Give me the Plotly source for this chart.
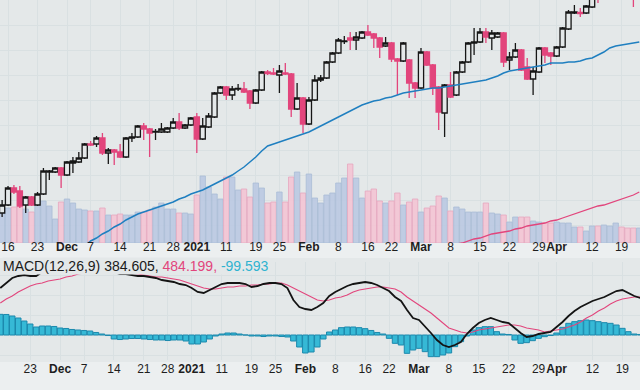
import pandas as pd
import plotly.graph_objects as go

# ---------------- data ----------------
HOLIDAYS = ["2020-11-26", "2020-12-25", "2021-01-01", "2021-01-18", "2021-02-15", "2021-04-02"]
FIRST_DAY, LAST_DAY = "2020-11-13", "2021-04-22"

OPEN = [29740, 29900, 30240, 30180, 29900, 30060, 29900, 30120, 30560, 30560, 30640, 30500, 30740, 30760, 30840,
        31120, 31120, 31240, 30940, 31000, 30960, 30860, 31240, 31260, 31480, 31420, 31360, 31360, 31360, 31440,
        31560, 31440, 31500, 31660, 31220, 31460, 31660, 32140, 32260, 32100, 32220, 32220, 32180, 31940, 32200,
        32560, 32540, 32500, 32540, 32520, 31820, 32040, 31520, 32000, 32400, 32440, 32760, 32940, 33170, 33240,
        33200, 33240, 33360, 33320, 33240, 33080, 33140, 32820, 32780, 32800, 32340, 32240, 32960, 32700, 32260,
        31740, 32300, 32100, 32560, 32760, 33140, 33160, 33360, 33240, 33260, 33340, 32800, 32860, 33000, 32660,
        32420, 32560, 33040, 32940, 32880, 33060, 33420, 33740, 33750, 33740, 33860, 34120, 34020, 34200, 34400,
        34480, 34400, 34280, 34080]
HIGH = [30000, 30280, 30300, 30280, 30080, 30080, 30160, 30640, 30600, 30660, 30660, 30780, 30860, 30960, 31140,
        31180, 31280, 31340, 31040, 31020, 31120, 31260, 31340, 31500, 31540, 31440, 31420, 31540, 31460, 31640,
        31740, 31520, 31660, 31740, 31640, 31740, 32160, 32280, 32280, 32280, 32320, 32360, 32200, 32220, 32580,
        32600, 32640, 32700, 32740, 32540, 32340, 32060, 32060, 32500, 32500, 32780, 32960, 33240, 33280, 33360,
        33360, 33380, 33500, 33340, 33260, 33260, 33160, 32840, 33160, 32820, 32360, 33040, 32980, 32720, 32280,
        32320, 32560, 32580, 32780, 33160, 33440, 33440, 33440, 33400, 33360, 33360, 32960, 33140, 33020, 32840,
        32660, 33060, 33060, 32960, 33080, 33460, 33800, 33900, 33840, 33900, 34080, 34160, 34240, 34440, 34540,
        34520, 34420, 34320, 34320]
LOW = [29660, 29880, 30120, 29840, 29740, 29880, 29880, 30100, 30400, 30540, 30240, 30480, 30540, 30740, 30820,
       31080, 31060, 30900, 30720, 30700, 30840, 30840, 31160, 31240, 31200, 30860, 31200, 31340, 31340, 31420,
       31400, 31420, 31480, 30940, 31200, 31440, 31640, 32120, 32000, 32000, 32180, 32140, 31820, 31920, 32180,
       32500, 32500, 32140, 32500, 31660, 31800, 31340, 31500, 31980, 32360, 32420, 32740, 32920, 33120, 33000,
       33000, 33220, 33280, 33040, 32840, 33060, 32760, 32100, 32760, 32040, 32040, 32220, 32680, 32100, 31400,
       31260, 32040, 32080, 32540, 32740, 32900, 33140, 33140, 33000, 33240, 32660, 32600, 32840, 32580, 32400,
       32100, 32540, 32740, 32700, 32860, 33040, 33400, 33720, 33660, 33720, 33840, 33940, 34000, 34180, 34360,
       34300, 34040, 33860, 34040]
CLOSE = [29900, 30240, 30160, 29880, 30060, 29900, 30120, 30580, 30580, 30640, 30500, 30760, 30780, 30840, 31120,
         31100, 31240, 30940, 31000, 30960, 30860, 31240, 31260, 31480, 31420, 31340, 31370, 31420, 31440, 31560,
         31440, 31500, 31640, 31220, 31480, 31680, 32140, 32260, 32100, 32220, 32230, 32160, 31940, 32200, 32560,
         32530, 32520, 32580, 32520, 31820, 32040, 31520, 32000, 32400, 32440, 32760, 32940, 33200, 33180, 33200,
         33260, 33360, 33300, 33240, 33060, 33140, 32820, 32780, 33140, 32340, 32240, 32960, 32700, 32240, 31760,
         32300, 32060, 32560, 32760, 33140, 33160, 33360, 33260, 33340, 33340, 32760, 32860, 33000, 32600, 32420,
         32580, 33040, 32900, 32880, 33060, 33440, 33760, 33760, 33730, 33880, 34040, 34020, 34200, 34400, 34480,
         34400, 34200, 34080, 34280]
VOLUME = [175, 175, 180, 180, 170, 155, 220, 210, 185, 120, 205, 220, 200, 170, 165, 160, 160, 175, 140, 140,
          145, 140, 140, 155, 155, 165, 180, 200, 170, 170, 150, 150, 145, 240, 335, 280, 245, 220, 330, 330,
          265, 270, 230, 300, 275, 200, 205, 255, 205, 330, 355, 250, 345, 225, 200, 240, 250, 300, 325, 395,
          325, 225, 260, 270, 210, 200, 210, 250, 190, 205, 220, 155, 175, 185, 235, 225, 160, 180, 170, 155,
          155, 155, 200, 150, 145, 140, 105, 130, 130, 130, 110, 105, 100, 100, 105, 100, 100, 80, 80, 60,
          85, 85, 90, 85, 100, 80, 75, 75, 75]

MA_BLUE_START = "2020-12-04"
MA_BLUE = [29080, 29180, 29240, 29320, 29380, 29460, 29520, 29600, 29660, 29720, 29760, 29800, 29840, 29880, 29920,
           29960, 30020, 30060, 30120, 30160, 30200, 30260, 30320, 30380, 30440, 30500, 30580, 30660, 30760, 30860,
           30980, 31080, 31120, 31160, 31200, 31240, 31280, 31320, 31360, 31420, 31480, 31540, 31600, 31660, 31720,
           31780, 31840, 31900, 31940, 31980, 32000, 32040, 32060, 32100, 32140, 32160, 32180, 32200, 32220, 32240,
           32240, 32260, 32280, 32300, 32320, 32340, 32360, 32380, 32400, 32440, 32480, 32540, 32580, 32600, 32620,
           32640, 32660, 32680, 32700, 32740, 32740, 32740, 32760, 32760, 32780, 32820, 32840, 32900, 32960, 33040,
           33080, 33100, 33120, 33140, 33160]
MA_PINK_START = "2021-03-08"
MA_PINK = [29080, 29120, 29140, 29180, 29220, 29240, 29280, 29320, 29340, 29360, 29380, 29420, 29440, 29480, 29500,
           29520, 29540, 29580, 29600, 29640, 29680, 29720, 29760, 29800, 29840, 29880, 29900, 29940, 29980, 30020,
           30060, 30100, 30160]

MACD_START = "2020-11-16"
MACD = [480, 555, 630, 660, 675, 660, 660, 720, 735, 750, 765, 780, 795, 795, 795, 795, 780, 765, 750, 720, 690, 690,
        675, 660, 660, 645, 630, 600, 585, 570, 540, 525, 480, 420, 405, 450, 495, 540, 555, 555, 555, 540, 495, 510,
        540, 555, 555, 540, 480, 300, 195, 165, 150, 195, 255, 360, 420, 465, 510, 540, 555, 570, 555, 525, 480, 435,
        345, 285, 150, 30, 0, -90, -195, -300, -375, -405, -375, -330, -210, -120, -45, 0, 30, 0, -30, -45, -120,
        -195, -255, -240, -210, -195, -180, -105, -30, 60, 135, 195, 240, 285, 315, 345, 390, 435, 450, 405, 360, 330]
SIGNAL = [255, 315, 360, 420, 465, 510, 540, 555, 585, 600, 615, 645, 660, 690, 705, 735, 765, 780, 765, 750, 735, 720,
          705, 690, 675, 660, 645, 645, 630, 615, 600, 570, 540, 510, 480, 465, 465, 480, 495, 495, 510, 510, 525, 525,
          540, 540, 555, 555, 525, 480, 435, 390, 345, 300, 285, 300, 330, 345, 375, 420, 450, 465, 480, 495, 495, 480,
          465, 420, 345, 285, 225, 165, 105, 30, -45, -120, -150, -180, -195, -180, -150, -135, -120, -105, -90, -75,
          -75, -90, -120, -135, -150, -180, -165, -150, -135, -105, -75, -30, 30, 75, 135, 180, 240, 285, 315, 330,
          345, 345]
HIST = [310, 308, 285, 255, 210, 165, 120, 135, 135, 128, 105, 98, 83, 75, 68, 60, 38, 15, -8, -60, -68, -60, -53, -53,
        -60, -68, -75, -75, -83, -75, -75, -90, -135, -135, -105, -60, -15, 15, 30, 30, 15, 0, -15, -15, -23, -15, -15,
        -23, -30, -90, -180, -270, -255, -180, -60, 45, 75, 110, 120, 120, 110, 95, 68, 38, 15, -50, -125, -150, -275,
        -225, -200, -250, -325, -325, -300, -270, -175, -100, -15, 75, 110, 125, 125, 50, 15, 8, -75, -125, -115, -85,
        -50, -25, -8, 30, 115, 175, 200, 215, 225, 215, 200, 185, 175, 150, 100, 50, 15, 8]

TICK_DATES = ["2020-11-16", "2020-11-23", "2020-12-01", "2020-12-07", "2020-12-14", "2020-12-21", "2020-12-28",
              "2021-01-04", "2021-01-11", "2021-01-19", "2021-01-25", "2021-02-01", "2021-02-08", "2021-02-16",
              "2021-02-22", "2021-03-01", "2021-03-08", "2021-03-15", "2021-03-22", "2021-03-29", "2021-04-01",
              "2021-04-12", "2021-04-19"]
TICK_TEXT = ["16", "23", "<b>Dec</b>", "7", "14", "21", "28", "<b>2021</b>", "11", "19", "25", "<b>Feb</b>", "8",
             "16", "22", "<b>Mar</b>", "8", "15", "22", "29", "<b>Apr</b>", "12", "19"]

TITLE_VALUES = ["384.605", "484.199", "-99.593"]

# ---------------- build ----------------
days = pd.bdate_range(FIRST_DAY, LAST_DAY, freq="C", holidays=HOLIDAYS)
pos = {d.strftime("%Y-%m-%d"): i for i, d in enumerate(days)}
X = list(range(len(days)))


def xs(start, n):
    s = pos[start]
    return X[s:s + n]


tickvals = [pos[d] for d in TICK_DATES]

BG = "#e4e8e9"
GRID = "#d9e0e2"
PINK = "#e2457c"
BLUE_LINE = "#1f7fc0"
CYAN = "#36b9d6"
FONT = "Liberation Sans, Arial, sans-serif"
W, H = 640, 390


def py(px):  # paper fraction from a pixel row (top origin)
    return (H - px) / H


up = [c >= o for o, c in zip(OPEN, CLOSE)]
vol_fill = ["rgba(186,201,226,0.9)" if u else "rgba(243,196,212,0.9)" for u in up]
vol_line = ["#a9bcd6" if u else "#e6a7bf" for u in up]

fig = go.Figure()

# volume (base axis of top panel)
fig.add_trace(go.Bar(x=X[:len(VOLUME)], y=VOLUME, marker=dict(color=vol_fill, line=dict(color=vol_line, width=0.8)),
                     xaxis="x", yaxis="y", showlegend=False, hoverinfo="skip"))
# candles (overlay axis)
fig.add_trace(go.Candlestick(x=X, open=OPEN, high=HIGH, low=LOW, close=CLOSE, xaxis="x", yaxis="y2",
                             increasing=dict(line=dict(color="#161616", width=1.3), fillcolor=BG),
                             decreasing=dict(line=dict(color=PINK, width=1.3), fillcolor=PINK),
                             whiskerwidth=0, showlegend=False))
fig.add_trace(go.Scatter(x=xs(MA_BLUE_START, len(MA_BLUE)), y=MA_BLUE, mode="lines",
                         line=dict(color=BLUE_LINE, width=1.5), xaxis="x", yaxis="y2", showlegend=False))
fig.add_trace(go.Scatter(x=xs(MA_PINK_START, len(MA_PINK)), y=MA_PINK, mode="lines",
                         line=dict(color=PINK, width=1.3), xaxis="x", yaxis="y2", showlegend=False))

# MACD panel
fig.add_trace(go.Bar(x=xs(MACD_START, len(HIST)), y=HIST, marker=dict(color=CYAN, line=dict(color="#1c89ad", width=1)),
                     xaxis="x2", yaxis="y3", showlegend=False))
fig.add_trace(go.Scatter(x=xs(MACD_START, len(SIGNAL)), y=SIGNAL, mode="lines", line=dict(color=PINK, width=1.1),
                         xaxis="x2", yaxis="y4", showlegend=False))
fig.add_trace(go.Scatter(x=xs(MACD_START, len(MACD)), y=MACD, mode="lines", line=dict(color="#141414", width=1.8),
                         xaxis="x2", yaxis="y4", showlegend=False))

axis_common = dict(tickvals=tickvals, ticktext=TICK_TEXT, tickangle=0, showgrid=True, gridcolor=GRID, gridwidth=1,
                   zeroline=False, showline=False, ticks="", tickfont=dict(family=FONT, size=12, color="#1e1e1e"))

fig.update_layout(
    width=W, height=H, margin=dict(l=0, r=0, t=0, b=0),
    paper_bgcolor=BG, plot_bgcolor=BG,
    bargap=0.08, boxgap=0.12, boxgroupgap=0,
    xaxis=dict(domain=[0, 1], anchor="y", range=[-0.36, 108.12], rangeslider=dict(visible=False),
               ticklabelstandoff=-5, **axis_common),
    yaxis=dict(domain=[py(243), 1], range=[0, 1215], showticklabels=False, showgrid=False, zeroline=False),
    yaxis2=dict(overlaying="y", range=[29140, 34000], showticklabels=False, showgrid=True, gridcolor=GRID,
                dtick=500, zeroline=False),
    xaxis2=dict(domain=[0, 1], anchor="y3", range=[0.95, 107.95], **axis_common),
    yaxis3=dict(domain=[py(360), py(262)], range=[-375, 1095], showticklabels=False, showgrid=True,
                gridcolor=GRID, dtick=300, zeroline=False),
    yaxis4=dict(overlaying="y3", range=[-600, 870], showticklabels=False, showgrid=False, zeroline=False),
    shapes=[
        dict(type="rect", xref="paper", yref="paper", x0=0, x1=1, y0=py(258), y1=py(243),
             fillcolor="#eceff0", line=dict(width=0), layer="below"),
        dict(type="rect", xref="paper", yref="paper", x0=0, x1=1, y0=0, y1=py(362),
             fillcolor="#eceff0", line=dict(width=0), layer="below"),
    ],
    annotations=[dict(
        xref="paper", yref="paper", x=2 / W, y=py(266), xanchor="left", yanchor="middle", showarrow=False,
        text=("MACD(12,26,9) " + TITLE_VALUES[0] + ", "
              + f"<span style='color:{PINK}'>{TITLE_VALUES[1]}, </span>"
              + f"<span style='color:#2fb3d0'>{TITLE_VALUES[2]}</span>"),
        font=dict(family=FONT, size=14, color="#1a1a1a"), bgcolor=BG, borderpad=0)],
)

fig.write_html("out.html", config={"displayModeBar": False},
               post_script="document.body.style.margin='0';document.body.style.padding='0';"
                           "document.body.style.overflow='hidden';document.body.style.background='" + BG + "';")
